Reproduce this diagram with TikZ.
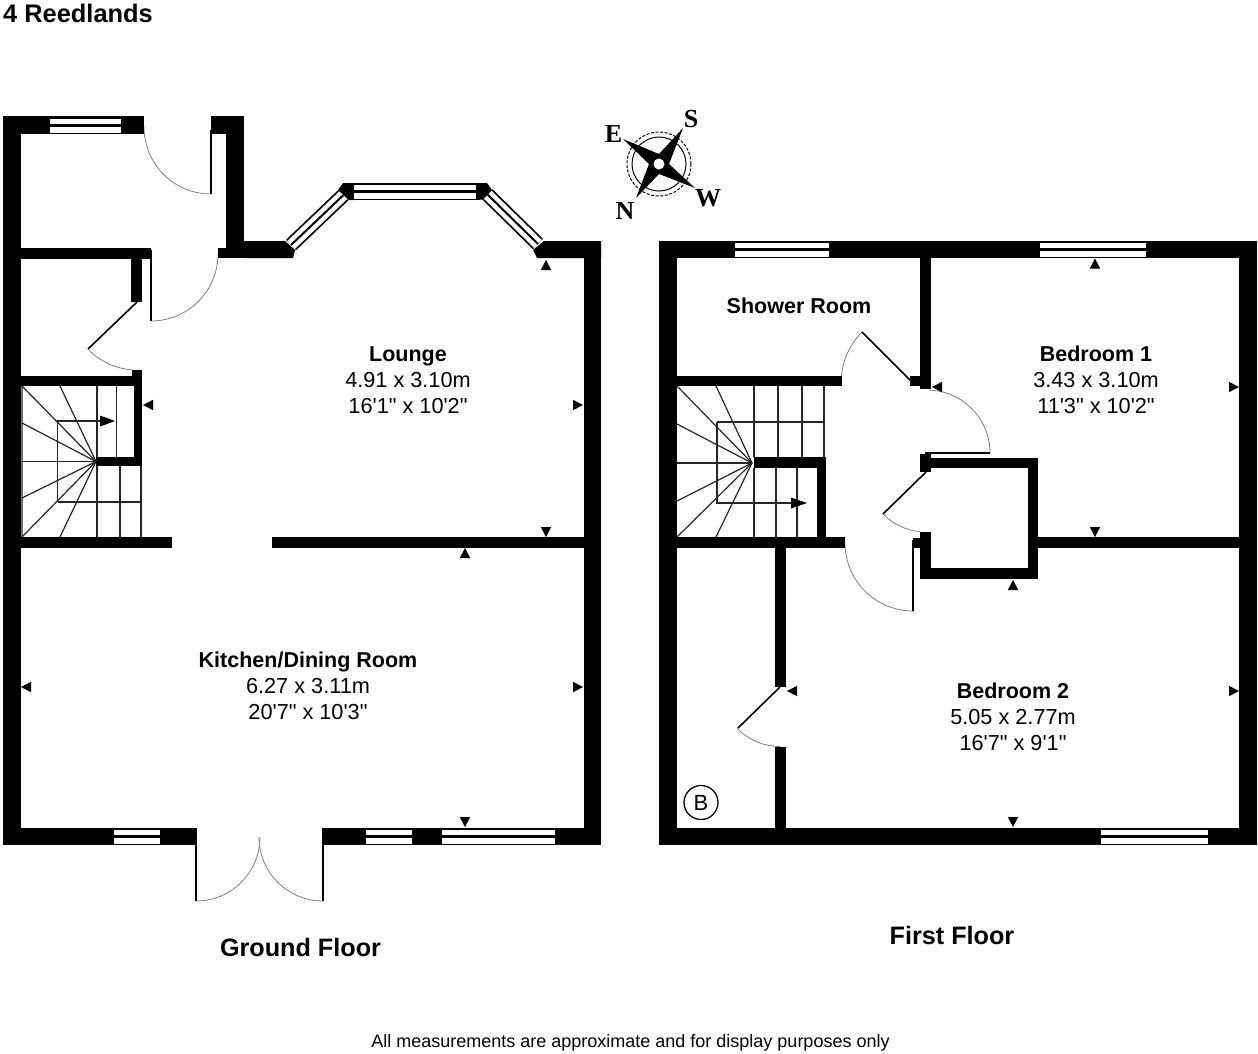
\documentclass[tikz,border=0pt]{standalone}
\usepackage{fontspec}
\newfontfamily\lsans{Liberation Sans}
\newfontfamily\lserif{Liberation Serif}
\newcommand{\wallr}[4]{\fill[black] (#1,#2) rectangle (#3,#4);}
\newcommand{\winr}[3]{\draw[winwhite] (#1,#3) -- (#2,#3); \draw[winmid] (#1,#3) -- (#2,#3);}
\newcommand{\tup}[2]{\fill[black] (#1,#2) -- ++(-5.2,10) -- ++(10.4,0) -- cycle;}
\newcommand{\tdn}[2]{\fill[black] (#1,#2) -- ++(-5.2,-10) -- ++(10.4,0) -- cycle;}
\newcommand{\tlf}[2]{\fill[black] (#1,#2) -- ++(10,-5.2) -- ++(0,10.4) -- cycle;}
\newcommand{\trt}[2]{\fill[black] (#1,#2) -- ++(-10,-5.2) -- ++(0,10.4) -- cycle;}
\tikzset{
  swing/.style={draw=black!50,line width=0.8pt},
  leaf/.style={draw=black,line width=1.6pt},
  thin leaf/.style={draw=black,line width=1.3pt},
  tread/.style={draw=black!85,line width=1.2pt},
  winwhite/.style={draw=white,line width=14pt},
  winmid/.style={draw=black,line width=2.2pt},
  bayblack/.style={draw=black,line width=14.5pt},
  baywhite/.style={draw=white,line width=11pt},
  baymid/.style={draw=black,line width=2pt},
  roomhead/.style={font=\lsans\bfseries\fontsize{21.5}{26}\selectfont,inner sep=0pt},
  roomdim/.style={font=\lsans\fontsize{21.7}{26}\selectfont,inner sep=0pt},
  floorname/.style={font=\lsans\bfseries\fontsize{25.2}{30}\selectfont,inner sep=0pt},
  compassletter/.style={font=\lserif\bfseries\fontsize{26}{30}\selectfont,inner sep=0pt},
}
\begin{document}
\begin{tikzpicture}[x=1pt,y=-1pt]
\useasboundingbox (0,0) rectangle (1258,1053);
\fill[white] (0,0) rectangle (1258,1053);
\node[anchor=west,inner sep=0pt,font=\lsans\bfseries\fontsize{25.4}{30}\selectfont] (title) at (3,13) {4 Reedlands};

% ---------- GROUND FLOOR ----------
% door swings
\draw[swing] (211,127)++(180:67) arc[start angle=180,end angle=90,radius=67];
\draw[swing] (151,254)++(0:67) arc[start angle=0,end angle=90,radius=67];
\draw[swing] (137,302)++(136:68) arc[start angle=136,end angle=94,radius=68];
\draw[swing] (196,837)++(90:64) arc[start angle=90,end angle=0,radius=64];
\draw[swing] (323,837)++(90:64) arc[start angle=90,end angle=180,radius=64];
\draw[thin leaf] (211,130) -- (211,194);
\draw[thin leaf] (151,250) -- (151,321);
\draw[leaf] (137,302) -- (88,349);
\draw[thin leaf] (196,840) -- (196,901);
\draw[thin leaf] (323,840) -- (323,901);
% outer walls
\wallr{3}{116}{21}{845}
\wallr{3}{116}{144}{134}
\wallr{211}{116}{244}{134}
\wallr{226}{116}{244}{258}
\wallr{218}{248}{226}{258}
\wallr{21}{248}{151}{259}
\wallr{131}{259}{142}{302}
\wallr{584}{241}{601}{845}
\wallr{3}{828}{197}{845}
\wallr{322}{828}{601}{845}
% bay
\draw[bayblack] (291,245) -- (343.5,195);
\draw[baywhite] (291,245) -- (343.5,195);
\draw[baymid] (291,245) -- (343.5,195);
\draw[bayblack] (487.5,194.5) -- (538,244);
\draw[baywhite] (487.5,194.5) -- (538,244);
\draw[baymid] (487.5,194.5) -- (538,244);
\wallr{353}{183}{476}{200}
\fill[black] (343,183) -- (353,183) -- (353,200) -- (349,200) -- (338,190) -- cycle;
\fill[black] (476,183) -- (487,183) -- (492,190) -- (483,199.5) -- (476,200) -- cycle;
\fill[black] (244,241) -- (285,241) -- (295,250) -- (293,258) -- (244,258) -- cycle;
\fill[black] (544,241) -- (601,241) -- (601,258) -- (537,258) -- (533,250) -- cycle;
\draw[white,line width=14pt] (354,191.5) -- (476,191.5);
\draw[winmid] (354,191.5) -- (476,191.5);
% windows
\winr{50}{121}{125.5}
\winr{114}{160}{836.5}
\winr{366}{412}{836.5}
\winr{442}{555}{836.5}
% stair walls
\wallr{21}{376}{142}{386}
\wallr{132}{370}{142}{386}
\wallr{134}{376}{142}{466}
\wallr{96}{457}{142}{466}
\wallr{21}{537}{172}{548}
\wallr{272}{537}{584}{548}
% stair treads
\draw[draw=black!55,line width=1.2pt] (22,386) -- (22,537);
\foreach \ex/\ey in {22/386,60/386,22/423,22/461.5,22/498,22/537,60/537}
  \draw[tread] (96,461.5) -- (\ex,\ey);
\draw[tread] (97,386) -- (97,457);
\draw[tread] (116.5,386) -- (116.5,457);
\draw[tread] (97,466) -- (97,537);
\draw[tread] (120,466) -- (120,537);
\draw[tread] (141,466) -- (141,537);
\draw[tread] (57.5,502) -- (141,502);
\draw[tread,line width=1.4pt] (57.5,502) -- (57.5,421) -- (102,421);
\fill[black] (100,415.5) -- (115,421) -- (100,426.5) -- cycle;
% markers
\tlf{143}{405}
\trt{583}{405}
\tup{546}{260}
\tdn{546}{537}
\tup{465}{548}
\tlf{21}{687}
\trt{583}{687}
\tdn{465}{827}

% ---------- FIRST FLOOR ----------
\draw[swing] (912,382)++(225:70.7) arc[start angle=225,end angle=180,radius=70.7];
\draw[swing] (927,453)++(-88:63) arc[start angle=-88,end angle=0,radius=63];
\draw[swing] (926,472)++(135.6:60) arc[start angle=135.6,end angle=96,radius=60];
\draw[swing] (913,543)++(90:68) arc[start angle=90,end angle=180,radius=68];
\draw[swing] (780,687)++(135.7:59.5) arc[start angle=135.7,end angle=90,radius=59.5];
\draw[leaf] (862,332) -- (912,382);
\draw[thin leaf] (925,453) -- (990,453);
\draw[leaf] (883,514) -- (926,472);
\draw[thin leaf] (913,540) -- (913,611);
\draw[leaf] (738,728) -- (780,687);
% outer walls
\wallr{659}{241}{1257}{258}
\wallr{659}{241}{677}{845}
\wallr{1239}{241}{1257}{845}
\wallr{659}{828}{1257}{845}
% windows
\winr{735}{829}{249.5}
\winr{1040}{1146}{249.5}
\winr{1101}{1208}{836.5}
% internal walls
\wallr{677}{376}{842}{386}
\wallr{677}{537}{845}{548}
\wallr{754}{457}{826}{468}
\wallr{817}{457}{826}{537}
\wallr{775}{548}{786}{687}
\wallr{775}{747}{786}{828}
\wallr{920}{258}{931}{389}
\wallr{910}{376}{920}{386}
\wallr{920}{458}{1038}{468}
\wallr{1028}{458}{1038}{579}
\wallr{920}{568}{1038}{579}
\wallr{920}{532}{931}{579}
\wallr{920}{454}{931}{472}
\wallr{913}{538}{920}{548}
\wallr{1038}{537}{1239}{548}
% stair treads
\foreach \ex/\ey in {677/386,716/386,677/424,677/463,677/501,677/537,716/537}
  \draw[tread] (752,463) -- (\ex,\ey);
\foreach \tx in {754,778,802,824}
  \draw[tread] (\tx,386) -- (\tx,457);
\foreach \tx in {754,776,797}
  \draw[tread] (\tx,468) -- (\tx,537);
\draw[tread] (717,422) -- (824,422);
\draw[tread,line width=1.4pt] (717,422) -- (717,503) -- (793,503);
\fill[black] (791,497.5) -- (807,503) -- (791,508.5) -- cycle;
% markers
\tup{1095}{258.5}
\tlf{932}{387}
\trt{1239}{387}
\tdn{1095}{537}
\tup{1013}{580}
\tlf{787}{691}
\trt{1239}{691}
\tdn{1013}{827}
% boiler
\node[circle,draw=black,line width=1.3pt,minimum size=34pt,inner sep=0pt,font=\lsans\fontsize{22}{24}\selectfont] (boiler) at (701,802.5) {B};

% ---------- COMPASS ----------
\draw[black,line width=1pt] (659,164) circle[radius=27];
\draw[black,line width=1pt,dash pattern=on 3pt off 1.6pt] (659,164) circle[radius=32];
\fill[black] (623,139) -- (659,154) -- (683,128) -- (669,164) -- (695,188) -- (659,174) -- (636,198) -- (649,164) -- cycle;
\fill[white] (659,164) circle[radius=5.5];
\node[compassletter] (compE) at (613.5,134) {E};
\node[compassletter] (compS) at (691,119.5) {S};
\node[compassletter] (compW) at (708,198) {W};
\node[compassletter] (compN) at (625,211) {N};

% ---------- TEXT ----------
\node[roomhead] (loungeA) at (408,356.5) {Lounge};
\node[roomdim] (loungeB) at (408,380.5) {4.91 x 3.10m};
\node[roomdim] (loungeC) at (408,406.5) {16'1" x 10'2"};
\node[roomhead] (kitA) at (308,662) {Kitchen/Dining Room};
\node[roomdim] (kitB) at (308,686.5) {6.27 x 3.11m};
\node[roomdim] (kitC) at (308,712.5) {20'7" x 10'3"};
\node[roomhead] (shower) at (799,306) {Shower Room};
\node[roomhead] (bedaA) at (1096,354) {Bedroom 1};
\node[roomdim] (bedaB) at (1096,380.5) {3.43 x 3.10m};
\node[roomdim] (bedaC) at (1096,406.5) {11'3" x 10'2"};
\node[roomhead] (bedbA) at (1013,691) {Bedroom 2};
\node[roomdim] (bedbB) at (1013,717) {5.05 x 2.77m};
\node[roomdim] (bedbC) at (1013,743) {16'7" x 9'1"};
\node[floorname] (ground) at (300.5,947.5) {Ground Floor};
\node[floorname] (first) at (952,935) {First Floor};
\node[inner sep=0pt,font=\lsans\fontsize{18}{22}\selectfont] (note) at (630.5,1043) {All measurements are approximate and for display purposes only};
\end{tikzpicture}
\end{document}
